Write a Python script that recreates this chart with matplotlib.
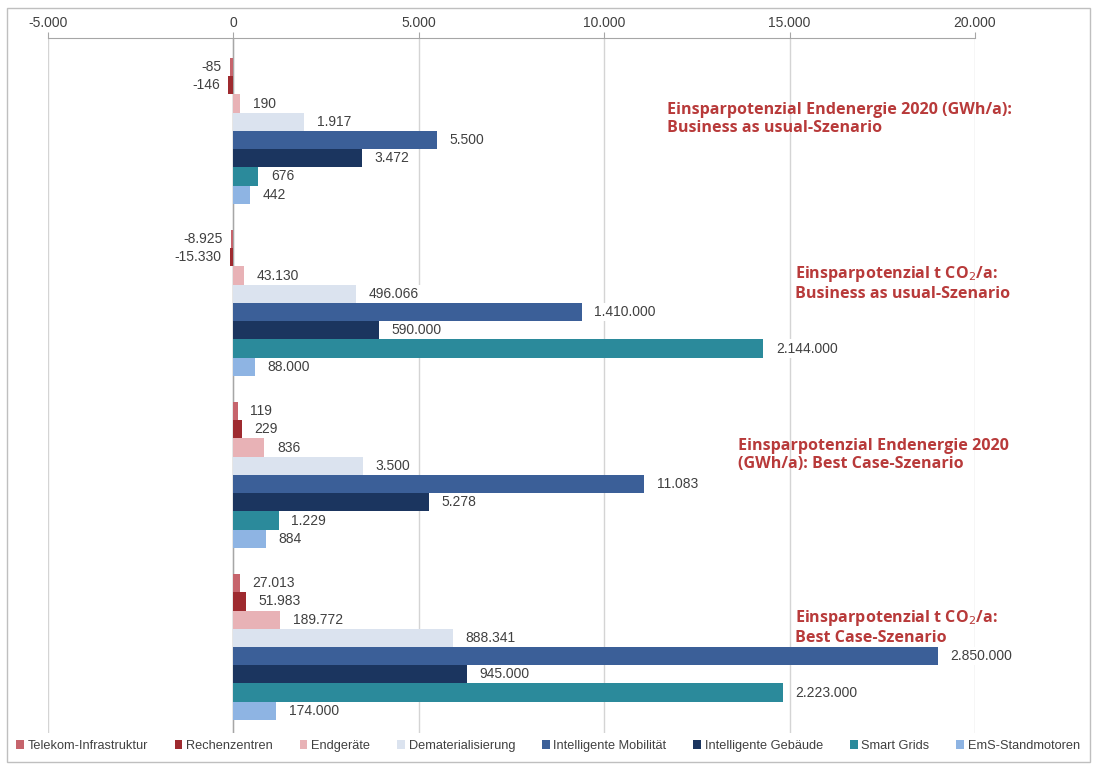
import matplotlib
matplotlib.use('Agg')
import matplotlib.pyplot as plt
import matplotlib.patches as mpatches
import numpy as np

plt.rcParams['font.family'] = ['Liberation Sans', 'DejaVu Sans']

# Szenarien (von oben nach unten)
scenarios = ['BAU Endenergie', 'BAU CO2', 'Best Case Endenergie', 'Best Case CO2']
# CO2-Werte werden im Diagramm auf 1/150 skaliert
scale = [1, 150, 1, 150]

series = ['Telekom-Infrastruktur', 'Rechenzentren', 'Endgeräte', 'Dematerialisierung',
          'Intelligente Mobilität', 'Intelligente Gebäude', 'Smart Grids', 'EmS-Standmotoren']
telekom = [-85, -8925, 119, 27013]
rechen = [-146, -15330, 229, 51983]
endgeraete = [190, 43130, 836, 189772]
demat = [1917, 496066, 3500, 888341]
mobil = [5500, 1410000, 11083, 2850000]
gebaeude = [3472, 590000, 5278, 945000]
smart = [676, 2144000, 1229, 2223000]
ems = [442, 88000, 884, 174000]
values = [telekom, rechen, endgeraete, demat, mobil, gebaeude, smart, ems]
colors = ['#c6646c', '#9e2a2f', '#e8b2b6', '#dbe3ef',
          '#3b5f98', '#1b355f', '#2b8a9b', '#8eb4e3']

titles = ['Einsparpotenzial Endenergie 2020 (GWh/a):\nBusiness as usual-Szenario',
          'Einsparpotenzial t CO$_2$/a:\nBusiness as usual-Szenario',
          'Einsparpotenzial Endenergie 2020\n(GWh/a): Best Case-Szenario',
          'Einsparpotenzial t CO$_2$/a:\nBest Case-Szenario']
title_pos = [(667, 119), (795, 283), (738, 455), (795, 627)]

def de_fmt(v):
    s = '{:,}'.format(int(v)).replace(',', '.')
    return s

fig = plt.figure(figsize=(10.96, 7.70), dpi=100)
ax = fig.add_axes([48 / 1096, 1 - 733 / 770, (975 - 48) / 1096, (733 - 38) / 770])

bh = 0.106
g = np.arange(len(scenarios))
for i, (name, vals, c) in enumerate(zip(series, values, colors)):
    y = g + (i - 3.5) * bh
    x = np.array(vals) / np.array(scale)
    ax.barh(y, x, height=bh, color=c, label=name, zorder=3)
    for yy, xx, v in zip(y, x, vals):
        if v < 0:
            ax.annotate(de_fmt(v), (xx, yy), xytext=(-6, 0), textcoords='offset points',
                        ha='right', va='center', fontsize=10, color='#404040', zorder=4)
        else:
            ax.annotate(de_fmt(v), (xx, yy), xytext=(9, 0), textcoords='offset points',
                        ha='left', va='center', fontsize=10, color='#404040', zorder=4,
                        bbox=dict(boxstyle='square,pad=0.15', fc='white', ec='none'))

ax.set_xlim(-5000, 20000)
ax.set_ylim(3.50, -0.54)
ax.set_xticks(np.arange(-5000, 20001, 5000))
ax.set_xticklabels([de_fmt(t) for t in np.arange(-5000, 20001, 5000)])
ax.xaxis.tick_top()
ax.tick_params(axis='x', direction='out', length=4, color='#a6a6a6', labelsize=10,
               labelcolor='#404040', pad=2)
ax.set_yticks([])
for s in ['left', 'right', 'bottom']:
    ax.spines[s].set_visible(False)
ax.spines['top'].set_color('#a6a6a6')
ax.grid(axis='x', color='#d4d4d4', lw=1, zorder=0)
ax.axvline(0, color='#a6a6a6', lw=1, zorder=2)

for t, (px, py) in zip(titles, title_pos):
    fig.text(px / 1096, 1 - py / 770, t, fontsize=11.6, fontweight='bold',
             color='#b83a3a', family=['Open Sans', 'DejaVu Sans'], va='center',
             ha='left', linespacing=1.15)

fig.legend(loc='center', bbox_to_anchor=(0.5, 1 - 746 / 770), ncol=8, frameon=False,
           fontsize=9.2, handlelength=0.6, handleheight=0.6, handletextpad=0.3,
           columnspacing=2.1, labelcolor='#404040')

fig.patches.append(mpatches.Rectangle((7 / 1096, 1 - 762 / 770), 1083 / 1096, 754 / 770,
                                      transform=fig.transFigure, fill=False,
                                      ec='#bfbfbf', lw=1))

plt.savefig('out.png', dpi=100)
